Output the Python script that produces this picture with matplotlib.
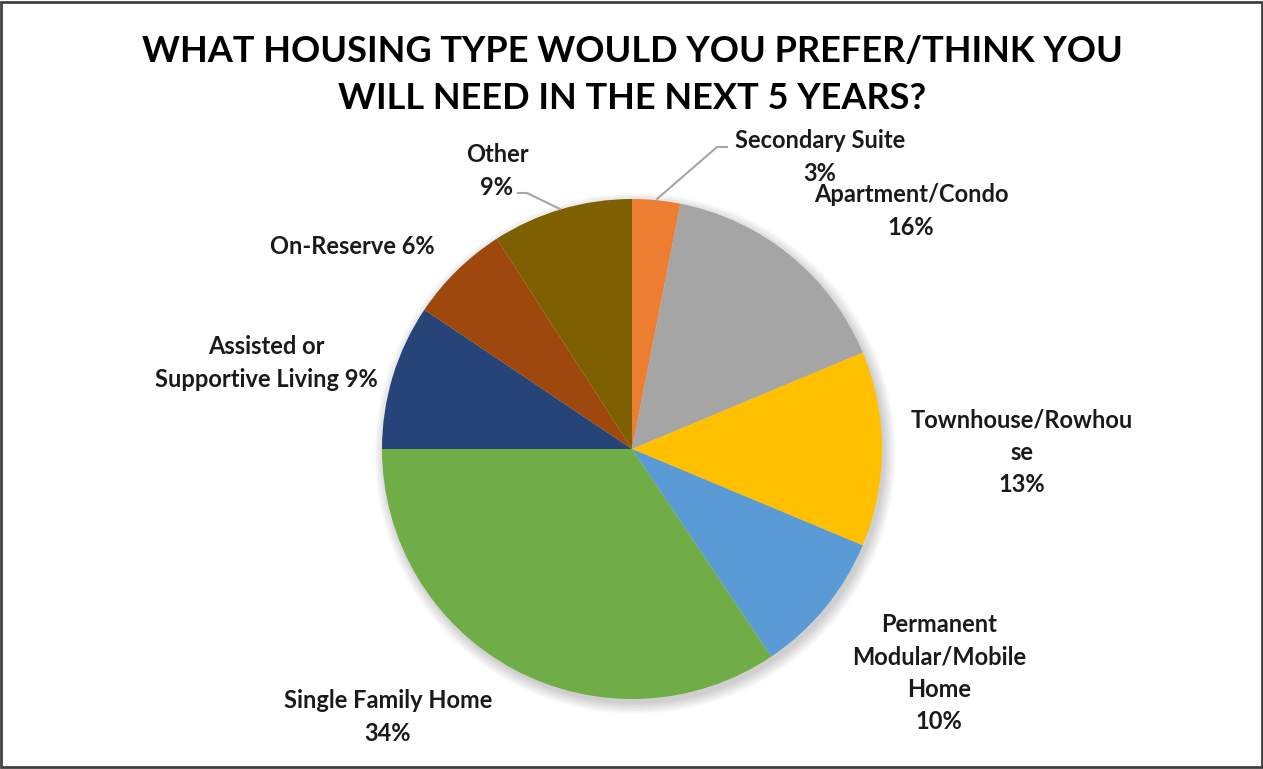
import matplotlib.pyplot as plt
from matplotlib.patches import Rectangle, Circle

# slice sizes (clockwise from 12 o'clock)
categories = ['Secondary Suite', 'Apartment/Condo', 'Townhouse/Rowhouse',
              'Permanent Modular/Mobile Home', 'Single Family Home',
              'Assisted or Supportive Living', 'On-Reserve', 'Other']
shares = [3.1, 15.6, 12.6, 9.3, 34.4, 9.4, 6.5, 9.1]
shown_pct = [3, 16, 13, 10, 34, 9, 6, 9]
colors = ['#ED7D31', '#A5A5A5', '#FFC000', '#5B9BD5',
          '#70AD47', '#264478', '#9E480E', '#7F6000']

# label text as Excel wrapped it
label_text = [
    'Secondary Suite\n{}%',
    'Apartment/Condo\n{}%',
    'Townhouse/Rowhou\nse\n{}%',
    'Permanent\nModular/Mobile\nHome\n{}%',
    'Single Family Home\n{}%',
    'Assisted or\nSupportive Living {}%',
    'On-Reserve {}%',
    'Other\n{}%',
]
# label centres in pixels of the 1263x769 picture
label_pos = [(820, 157), (911, 211), (1022, 452), (939, 673),
             (388, 717), (266, 363), (352, 246), (497, 171)]

W, H = 1263, 769
CX, CY, R = 632, 449, 250

def px(x, y):
    # picture pixels -> data units (pie radius = 1)
    return (x - CX) / R, (CY - y) / R

plt.rcParams['font.family'] = ['Lato', 'DejaVu Sans']

fig = plt.figure(figsize=(W / 100, H / 100), dpi=100)
ax = fig.add_axes([0, 0, 1, 1])

# soft shadow under the pie
for k in range(8):
    ax.add_patch(Circle((0.012, -0.018), 1 + 0.006 * k, color='black',
                        alpha=0.025, lw=0, zorder=0))

ax.pie(shares, colors=colors, startangle=90, counterclock=False, radius=1,
       wedgeprops=dict(linewidth=0))

# pie() resets the limits, so set them afterwards
ax.set_xlim(px(0, 0)[0], px(W, 0)[0])
ax.set_ylim(px(0, H)[1], px(0, 0)[1])
ax.set_aspect('equal')
ax.axis('off')

for txt, pct, (x, y) in zip(label_text, shown_pct, label_pos):
    ax.text(*px(x, y), txt.format(pct), ha='center', va='center',
            fontsize=17, fontweight='bold', color='#1a1a1a', linespacing=1.5)

# leader lines
ax.plot(*zip(px(657, 199), px(717, 147), px(727, 147)), color='#A6A6A6', lw=1.5)
ax.plot(*zip(px(518, 193), px(527, 193), px(560, 209)), color='#A6A6A6', lw=1.5)

ax.text(*px(632, 75), 'WHAT HOUSING TYPE WOULD YOU PREFER/THINK YOU\nWILL NEED IN THE NEXT 5 YEARS?',
        ha='center', va='center', fontsize=26, fontweight='bold', color='black',
        linespacing=1.5)

fig.add_artist(Rectangle((0.001, 0.002), 0.998, 0.996, transform=fig.transFigure,
                         fill=False, edgecolor='#404040', lw=2))

fig.savefig('out.png', dpi=100)
